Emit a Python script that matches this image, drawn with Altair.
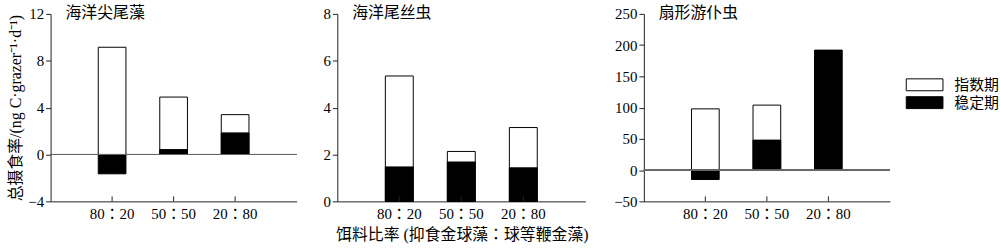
import altair as alt
import pandas as pd

ratios = ["80：20", "50：50", "20：80"]
species = ["海洋尖尾藻", "海洋尾丝虫", "扇形游仆虫"]
phases = ["指数期", "稳定期"]
exp_vals = [[9.15, 4.9, 3.4], [5.35, 2.13, 3.15], [98, 104, None]]
stat_vals = [[-1.65, 0.42, 1.84], [1.47, 1.68, 1.43], [-15, 48, 192]]
y_domains = [[-4, 12], [0, 8], [-50, 250]]
y_ticks = [[-4, 0, 4, 8, 12], [0, 2, 4, 6, 8], [-50, 0, 50, 100, 150, 200, 250]]
y_title = "总摄食率/(ng C·grazer⁻¹·d⁻¹)"
x_title = "饵料比率 (抑食金球藻：球等鞭金藻)"
widths = [248, 250, 248]
extents = [0, 18, 37]
H = 189

LATIN = "'Liberation Serif', 'Noto Sans CJK TC'"
AXC = "#222"


def panel(i):
    rows = []
    for r, v in zip(ratios, exp_vals[i]):
        rows.append({"ratio": r, "phase": phases[0], "value": v})
    for r, v in zip(ratios, stat_vals[i]):
        rows.append({"ratio": r, "phase": phases[1], "value": v})
    df = pd.DataFrame(rows)
    W = widths[i]
    xscale = alt.Scale(domain=ratios, paddingInner=0.55, paddingOuter=0.775)
    xaxis = alt.Axis(
        title=None, ticks=False, tickSize=0, labelAngle=0, labelPadding=5,
        domainColor=AXC,
    )
    yscale = alt.Scale(domain=y_domains[i], nice=False, zero=False)
    yargs = dict(
        values=y_ticks[i], title=y_title if i == 0 else None,
        grid=False, tickSize=5, labelPadding=2, domainColor=AXC, tickColor=AXC,
        titlePadding=4, labelOverlap=False, tickCount=len(y_ticks[i]),
    )
    if extents[i]:
        yargs["minExtent"] = extents[i]
        yargs["maxExtent"] = extents[i]
    yaxis = alt.Axis(**yargs)
    base = alt.Chart(df)
    bars = base.mark_bar(stroke="black", strokeWidth=1).encode(
        x=alt.X("ratio:N", scale=xscale, axis=xaxis, sort=ratios),
        y=alt.Y("value:Q", scale=yscale, axis=yaxis, stack=None),
        y2=alt.datum(0),
        fill=alt.Fill(
            "phase:N",
            scale=alt.Scale(domain=phases, range=["white", "black"]),
            legend=alt.Legend(
                title=None, orient="none", legendX=861, legendY=64,
                symbolType="M-1,-1H5.1667V1H-1Z", symbolSize=144,
                symbolStrokeColor="black", symbolStrokeWidth=1, symbolOpacity=1,
                labelOffset=35, labelFontSize=15, labelFont="Noto Sans CJK SC",
                rowPadding=1,
            ),
        ),
        order=alt.Order("phase:N"),
    )
    zero = base.mark_rule(color="#666", strokeWidth=1).encode(
        y=alt.YDatum(0, scale=yscale, axis=yaxis)
    )
    tdf = pd.DataFrame({"ratio": ratios})
    ticks = alt.Chart(tdf).mark_rule(color=AXC, strokeWidth=1).encode(
        x=alt.X("ratio:N", sort=ratios, scale=xscale, axis=xaxis),
        y=alt.value(H), y2=alt.value(H - 5),
    )
    layers = [bars, zero, ticks] if i != 1 else [bars, ticks]
    return alt.layer(*layers).properties(
        width=W, height=H,
        title=alt.TitleParams(
            species[i], anchor="start", frame="group", dx=15, offset=-14,
            fontSize=16, font="Noto Sans CJK SC", fontWeight="normal",
        ),
    )


chart = (
    alt.hconcat(panel(0), panel(1), panel(2), spacing=22)
    .resolve_scale(x="independent", y="independent")
    .properties(
        title=alt.TitleParams(
            x_title, orient="bottom", anchor="middle", dx=-42, offset=6,
            fontSize=16, font=LATIN, fontWeight="normal", color="black",
        )
    )
    .configure(background="white", padding={"left": 8, "top": 4, "right": 0, "bottom": 0})
    .configure_view(stroke=None)
    .configure_axis(
        labelFont=LATIN, labelFontSize=15, labelColor="black", labelOverlap=False,
        titleFont=LATIN, titleFontSize=16, titleFontWeight="normal", titleColor="black",
    )
)
chart.save("out.html", embed_options={"renderer": "svg", "actions": False})
